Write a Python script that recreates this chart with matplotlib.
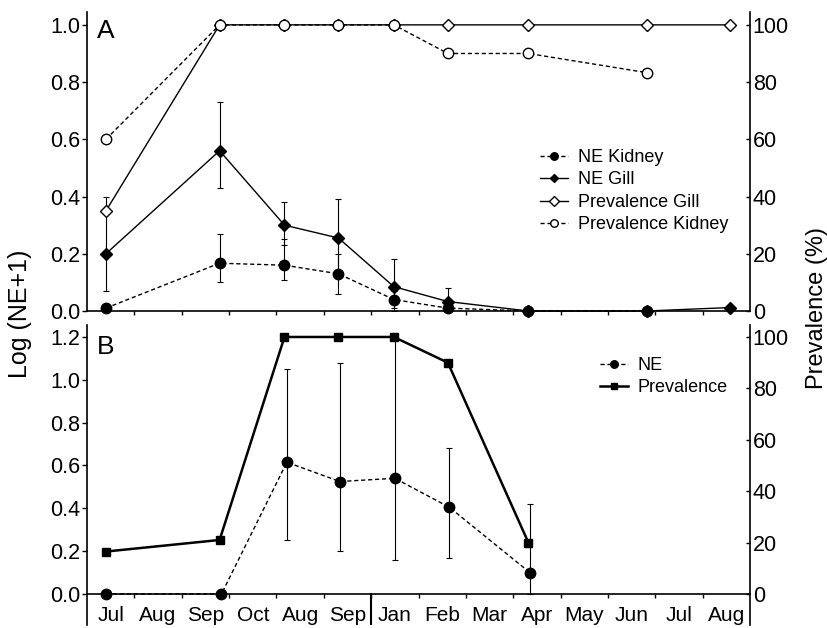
import matplotlib
matplotlib.use('Agg')
import matplotlib.pyplot as plt
from matplotlib.ticker import FixedLocator, NullFormatter, FixedFormatter

plt.rcParams['font.family'] = ['Liberation Sans', 'DejaVu Sans']

# ---------------- data ----------------
months = ['Jul', 'Aug', 'Sep', 'Oct', 'Aug', 'Sep', 'Jan', 'Feb', 'Mar',
          'Apr', 'May', 'Jun', 'Jul', 'Aug']
year_break = 6

# Panel A
a_x = [0.40, 2.80, 4.17, 5.31, 6.48, 7.62, 9.32, 11.82, 13.58]
ne_kidney = [0.01, 0.167, 0.16, 0.13, 0.04, 0.01, 0.0, 0.0]
ne_kidney_lo = [0.0, 0.067, 0.05, 0.07, 0.03, 0.0, 0.0, 0.0]
ne_kidney_hi = [0.0, 0.103, 0.09, 0.07, 0.03, 0.0, 0.0, 0.0]
ne_gill = [0.20, 0.56, 0.30, 0.255, 0.085, 0.033, 0.0, 0.0, 0.012]
ne_gill_lo = [0.13, 0.13, 0.07, 0.135, 0.085, 0.033, 0.0, 0.0, 0.0]
ne_gill_hi = [0.20, 0.17, 0.08, 0.135, 0.095, 0.047, 0.0, 0.0, 0.0]
prev_gill = [35, 100, 100, 100, 100, 100, 100, 100, 100]
prev_kidney = [60, 100, 100, 100, 100, 90, 90, 83.3]

# Panel B
b_x = [0.40, 2.80, 4.17, 5.31, 6.48, 7.62, 9.32]
b_ne_x = [0.40, 2.84, 4.22, 5.34, 6.50, 7.65, 9.35]
b_ne = [0.0, 0.0, 0.615, 0.525, 0.54, 0.405, 0.10]
b_ne_lo = [0.0, 0.0, 0.365, 0.325, 0.38, 0.235, 0.10]
b_ne_hi = [0.0, 0.0, 0.435, 0.555, 0.68, 0.275, 0.32]
b_prev = [16.5, 21, 100, 100, 100, 90, 20]

# ---------------- figure ----------------
fig = plt.figure(figsize=(8.27, 6.28), dpi=100)
axA = fig.add_axes([0.1052, 0.5048, 0.8017, 0.4761])
axB = fig.add_axes([0.1052, 0.0048, 0.8017, 0.4777])

TICK_L = dict(direction='out', length=3.5, width=1, labelsize=15.5, pad=1.5)
TICK_R = dict(direction='in', length=3, width=1, labelsize=15.5, pad=2)
dash = (0, (3, 2))

def style_x(ax):
    ax.set_xlim(0, len(months))
    ax.xaxis.set_major_locator(FixedLocator(range(1, len(months))))
    ax.xaxis.set_major_formatter(NullFormatter())
    ax.xaxis.set_minor_locator(FixedLocator([i + 0.5 for i in range(len(months))]))
    ax.tick_params(axis='x', which='major', direction='out', length=3, width=1)
    ax.tick_params(axis='x', which='minor', length=0)

# ---- Panel A ----
style_x(axA)
axA.xaxis.set_minor_formatter(NullFormatter())
axA.set_ylim(0, 1.045)
axA.set_yticks([0, 0.2, 0.4, 0.6, 0.8, 1.0])
axA.yaxis.set_major_formatter(FixedFormatter(['0.0', '0.2', '0.4', '0.6', '0.8', '1.0']))
axA.tick_params(axis='y', **TICK_L)
for s in ['top', 'right']:
    axA.spines[s].set_visible(False)
for s in ['left', 'bottom']:
    axA.spines[s].set_linewidth(1.2)

axA.errorbar(a_x[:len(ne_kidney)], ne_kidney, yerr=[ne_kidney_lo, ne_kidney_hi],
             fmt='none', ecolor='black', elinewidth=0.8, capsize=2.5, capthick=0.8)
axA.errorbar(a_x, ne_gill, yerr=[ne_gill_lo, ne_gill_hi],
             fmt='none', ecolor='black', elinewidth=0.8, capsize=2.5, capthick=0.8)
hk, = axA.plot(a_x[:len(ne_kidney)], ne_kidney, color='black', lw=1, ls=dash,
               marker='o', ms=7.5, mfc='black', mec='black', clip_on=False, zorder=3,
               label='NE Kidney')
hg, = axA.plot(a_x, ne_gill, color='black', lw=1, ls='-',
               marker='D', ms=6, mfc='black', mec='black', clip_on=False, zorder=4,
               label='NE Gill')

axA2 = axA.twinx()
axA2.set_ylim(0, 104.5)
axA2.set_yticks([0, 20, 40, 60, 80, 100])
axA2.tick_params(axis='y', **TICK_R)
for s in ['top', 'left', 'bottom']:
    axA2.spines[s].set_visible(False)
axA2.spines['right'].set_linewidth(1.2)
hpg, = axA2.plot(a_x, prev_gill, color='black', lw=1, ls='-',
                 marker='D', ms=6.5, mfc='white', mec='black', mew=1, clip_on=False,
                 label='Prevalence Gill')
hpk, = axA2.plot(a_x[:len(prev_kidney)], prev_kidney, color='black', lw=1, ls=dash,
                 marker='o', ms=7.5, mfc='white', mec='black', mew=1, clip_on=False,
                 label='Prevalence Kidney')
axA2.legend(handles=[hk, hg, hpg, hpk], loc='upper left',
            bbox_to_anchor=(540 / 827, 1 - 149 / 628),
            bbox_transform=fig.transFigure, frameon=False, fontsize=13,
            handlelength=1.55, handletextpad=0.55, labelspacing=0.3,
            borderpad=0, borderaxespad=0, markerscale=0.72)
axA.text(0.015, 0.975, 'A', transform=axA.transAxes, fontsize=19,
         ha='left', va='top')

# ---- Panel B ----
style_x(axB)
axB.xaxis.set_minor_formatter(FixedFormatter(months))
axB.tick_params(axis='x', which='minor', labelsize=15, pad=9)
yminB, ymaxB = -0.145, 1.256
axB.set_ylim(yminB, ymaxB)
axB.set_yticks([0, 0.2, 0.4, 0.6, 0.8, 1.0, 1.2])
axB.yaxis.set_major_formatter(FixedFormatter(['0.0', '0.2', '0.4', '0.6', '0.8', '1.0', '1.2']))
axB.tick_params(axis='y', **TICK_L)
for s in ['top', 'right']:
    axB.spines[s].set_visible(False)
axB.spines['bottom'].set_position(('data', 0))
for s in ['left', 'bottom']:
    axB.spines[s].set_linewidth(1.2)
axB.axvline(year_break, ymin=0, ymax=(0 - yminB) / (ymaxB - yminB),
            color='black', lw=1.5)

axB.errorbar(b_ne_x, b_ne, yerr=[b_ne_lo, b_ne_hi], fmt='none', ecolor='black',
             elinewidth=0.8, capsize=2.5, capthick=0.8)
hne, = axB.plot(b_ne_x, b_ne, color='black', lw=1, ls=dash, marker='o', ms=7.5,
                mfc='black', mec='black', clip_on=False, zorder=3, label='NE')

axB2 = axB.twinx()
axB2.set_ylim(yminB * 100 / 1.2, ymaxB * 100 / 1.2)
axB2.set_yticks([0, 20, 40, 60, 80, 100])
axB2.tick_params(axis='y', **TICK_R)
for s in ['top', 'left', 'bottom']:
    axB2.spines[s].set_visible(False)
axB2.spines['right'].set_linewidth(1.2)
hp, = axB2.plot(b_x, b_prev, color='black', lw=1.8, ls='-', marker='s', ms=6.3,
                mfc='black', mec='black', clip_on=False, label='Prevalence')
axB2.legend(handles=[hne, hp], loc='upper left',
            bbox_to_anchor=(600 / 827, 1 - 357 / 628),
            bbox_transform=fig.transFigure, frameon=False, fontsize=13,
            handlelength=1.55, handletextpad=0.55, labelspacing=0.3,
            borderpad=0, borderaxespad=0, markerscale=0.72)
axB.text(0.015, 0.965, 'B', transform=axB.transAxes, fontsize=19,
         ha='left', va='top')

fig.text(0.024, 0.5, 'Log (NE+1)', rotation=90, ha='center', va='center', fontsize=18)
fig.text(0.988, 0.51, 'Prevalence (%)', rotation=90, ha='center', va='center', fontsize=17)

fig.savefig('out.png', dpi=100)
